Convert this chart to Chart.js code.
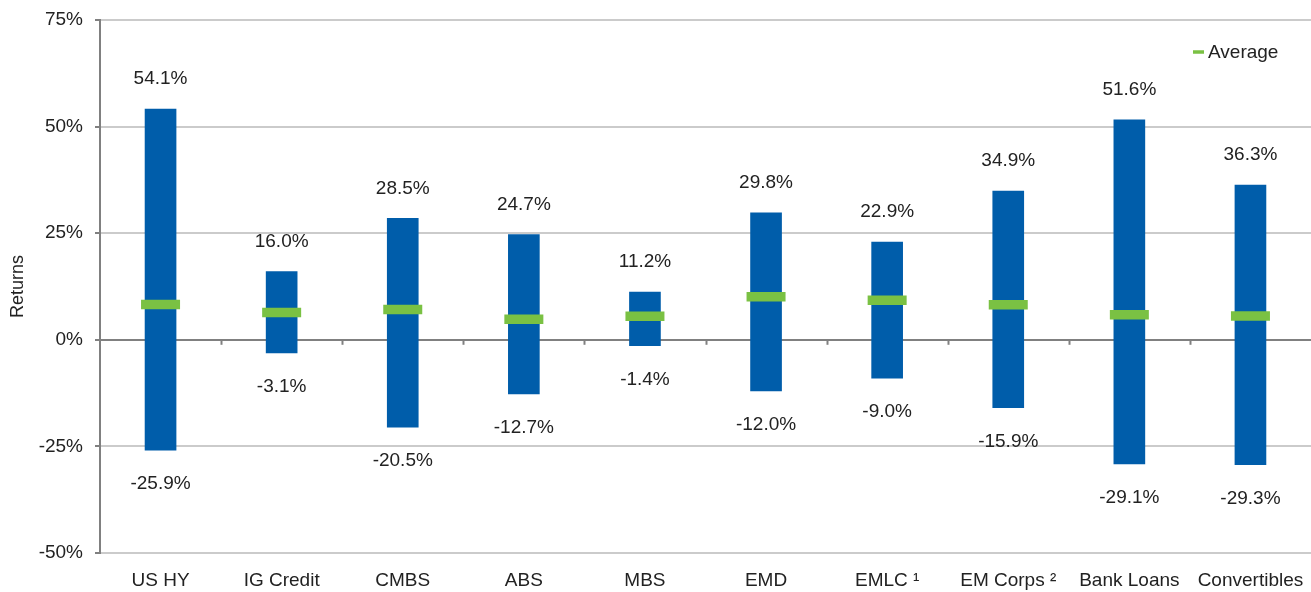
<!DOCTYPE html>
<html>
<head>
<meta charset="utf-8">
<script src="https://cdn.jsdelivr.net/npm/chart.js@4.4.1/dist/chart.umd.min.js"></script>
<style>
  body { margin: 0; background: #fff; }
  #wrap { width: 1311px; height: 592px; }
</style>
</head>
<body>
<div id="wrap"><canvas id="rangeChart" width="1311" height="592"></canvas></div>
<script>
// data
const categories = ['US HY', 'IG Credit', 'CMBS', 'ABS', 'MBS', 'EMD', 'EMLC \u00B9', 'EM Corps \u00B2', 'Bank Loans', 'Convertibles'];
const lows = [-25.9, -3.1, -20.5, -12.7, -1.4, -12.0, -9.0, -15.9, -29.1, -29.3];
const highs = [54.1, 16.0, 28.5, 24.7, 11.2, 29.8, 22.9, 34.9, 51.6, 36.3];
const averages = [8.3, 6.4, 7.1, 4.8, 5.5, 10.1, 9.3, 8.2, 5.9, 5.6];
const yTicks = [-50, -25, 0, 25, 50, 75];

const FONT = '"Liberation Sans", Arial, sans-serif';
const BLUE = '#005DAA';
const GREEN = '#7AC143';
const TEXT = '#222222';

const fmt = v => v.toFixed(1) + '%';
const noPadding = () => ({ left: 0, top: 0, right: 0, bottom: 0 });

// min / max labels around each bar
const rangeLabels = {
    id: 'rangeLabels',
    afterDatasetsDraw(chart) {
        const ctx = chart.ctx;
        const meta = chart.getDatasetMeta(0);
        ctx.save();
        ctx.font = '19px ' + FONT;
        ctx.fillStyle = TEXT;
        ctx.textAlign = 'center';
        ctx.textBaseline = 'middle';
        meta.data.forEach((bar, i) => {
            const top = Math.min(bar.y, bar.base);
            const bottom = Math.max(bar.y, bar.base);
            ctx.fillText(fmt(highs[i]), bar.x, top - 30);
            ctx.fillText(fmt(lows[i]), bar.x, bottom + 34);
        });
        ctx.restore();
    }
};

// small ticks on the zero line between categories
const zeroTicks = {
    id: 'zeroTicks',
    beforeDatasetsDraw(chart) {
        const ctx = chart.ctx;
        const x = chart.scales.x;
        const y0 = chart.scales.y.getPixelForValue(0);
        const step = x.getPixelForValue(1) - x.getPixelForValue(0);
        ctx.save();
        ctx.strokeStyle = '#808080';
        ctx.lineWidth = 2;
        for (let i = 1; i < categories.length; i++) {
            const px = Math.round(x.getPixelForValue(i) - step / 2) + 0.5;
            ctx.beginPath();
            ctx.moveTo(px, y0);
            ctx.lineTo(px, y0 + 5);
            ctx.stroke();
        }
        ctx.restore();
    }
};

// legend in the top right corner
const avgLegend = {
    id: 'avgLegend',
    afterDraw(chart) {
        const ctx = chart.ctx;
        const area = chart.chartArea;
        const x = area.right - 118;
        const y = area.top + 32;
        ctx.save();
        ctx.strokeStyle = GREEN;
        ctx.lineWidth = 3.5;
        ctx.beginPath();
        ctx.moveTo(x, y);
        ctx.lineTo(x + 11, y);
        ctx.stroke();
        ctx.font = '19px ' + FONT;
        ctx.fillStyle = TEXT;
        ctx.textBaseline = 'middle';
        ctx.fillText(chart.data.datasets[1].label, x + 15, y + 1);
        ctx.restore();
    }
};

const ctx = document.getElementById('rangeChart').getContext('2d');
const rangeChart = new Chart(ctx, {
    type: 'bar',
    data: {
        labels: categories,
        datasets: [
            {
                label: 'Range',
                data: categories.map((c, i) => [lows[i], highs[i]]),
                backgroundColor: BLUE,
                borderWidth: 0,
                barThickness: 31,
                order: 2
            },
            {
                type: 'line',
                label: 'Average',
                data: averages,
                showLine: false,
                pointStyle: 'line',
                pointRadius: 19.5,
                pointHoverRadius: 19.5,
                pointBorderWidth: 9.5,
                pointHoverBorderWidth: 9.5,
                borderColor: GREEN,
                backgroundColor: GREEN,
                clip: false,
                order: 1
            }
        ]
    },
    options: {
        responsive: false,
        animation: false,
        events: [],
        layout: {
            autoPadding: false,
            padding: { top: 20, right: 0, bottom: 0, left: 0 }
        },
        plugins: {
            legend: { display: false },
            tooltip: { enabled: false }
        },
        scales: {
            x: {
                grid: { display: false, drawTicks: false },
                border: { display: false },
                ticks: {
                    color: TEXT,
                    font: { family: FONT, size: 19 },
                    padding: 16,
                    maxRotation: 0,
                    autoSkip: false
                },
                afterFit(scale) {
                    scale.height = 39;
                    scale.paddingLeft = 0;
                    scale.paddingRight = 0;
                    scale.getPadding = noPadding;
                }
            },
            y: {
                min: yTicks[0],
                max: yTicks[yTicks.length - 1],
                afterBuildTicks(scale) {
                    scale.ticks = yTicks.map(v => ({ value: v }));
                },
                grid: {
                    color: c => c.tick && c.tick.value === 0 ? '#808080' : '#cbcbcb',
                    lineWidth: 2,
                    tickColor: '#808080',
                    tickLength: 5
                },
                border: { display: true, color: '#808080', width: 2 },
                ticks: {
                    color: TEXT,
                    font: { family: FONT, size: 19 },
                    padding: 12,
                    callback: v => v + '%'
                },
                title: {
                    display: true,
                    text: 'Returns',
                    color: TEXT,
                    font: { family: FONT, size: 18 },
                    padding: { top: 7, bottom: 0 }
                },
                afterFit(scale) {
                    scale.width = 100;
                    scale.paddingTop = 0;
                    scale.paddingBottom = 0;
                    scale.getPadding = noPadding;
                }
            }
        }
    },
    plugins: [zeroTicks, rangeLabels, avgLegend]
});
</script>
</body>
</html>
